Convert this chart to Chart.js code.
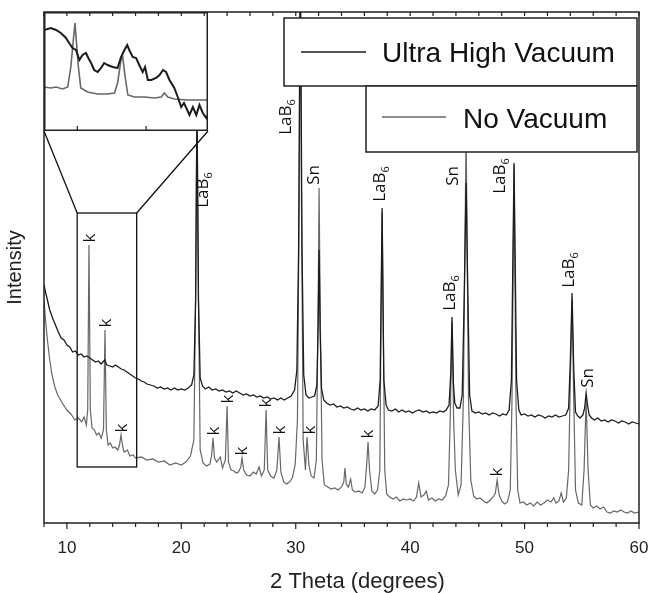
<!DOCTYPE html>
<html>
<head>
<meta charset="utf-8">
<script src="https://cdn.jsdelivr.net/npm/chart.js@4"></script>
<style>
  body { margin: 0; background: #fff; }
  #wrap { position: relative; width: 652px; height: 593px; }
  #mainChart { position: absolute; left: 0; top: 0; }
  #insetChart { position: absolute; left: 44px; top: 12px; }
</style>
</head>
<body>
<div id="wrap">
  <canvas id="mainChart" width="652" height="593"></canvas>
  <canvas id="insetChart" width="164" height="119"></canvas>
</div>
<script>
// XRD patterns: [2 theta, intensity (a.u.)]
const ultraHighVacuum = [
  [8.0,238],[8.15,230],[8.3,223],[8.5,213],[8.75,205],[9.0,198],[9.25,191],[9.5,185],[9.75,183],[10.0,178],
  [10.25,176],[10.5,171],[10.75,172],[11.0,168],[11.25,169],[11.5,166],[11.75,167],[12.0,165],[12.25,163],[12.5,161],
  [12.75,162],[13.0,159],[13.3,163],[13.5,158],[13.75,157],[14.0,156],[14.25,158],[14.5,156],[14.75,154],[15.0,153],
  [15.25,151],[15.5,149],[15.75,147],[16.0,145],[16.25,144],[16.5,142],[16.75,141],[17.0,139],[17.3,138],[17.6,137],
  [17.9,135],[18.2,136],[18.5,134],[18.8,135],[19.1,133],[19.4,135],[19.7,133],[20.0,134],[20.3,133],[20.6,135],
  [20.9,138],[21.1,148],[21.25,223],[21.37,423],[21.5,223],[21.65,145],[21.85,137],[22.1,134],[22.4,136],[22.7,133],
  [23.0,134],[23.3,132],[23.6,133],[23.9,131],[24.2,132],[24.5,130],[24.8,132],[25.1,130],[25.4,128],[25.7,129],
  [26.0,127],[26.3,128],[26.6,126],[26.9,127],[27.2,125],[27.5,126],[27.8,124],[28.1,125],[28.4,123],[28.7,125],
  [29.0,123],[29.3,125],[29.6,127],[29.9,133],[30.1,153],[30.25,273],[30.4,573],[30.55,273],[30.7,148],[30.9,128],
  [31.15,125],[31.4,126],[31.65,127],[31.85,138],[31.95,193],[32.04,273],[32.13,193],[32.25,135],[32.45,123],[32.7,120],
  [33.0,118],[33.3,119],[33.6,116],[33.9,117],[34.2,115],[34.5,116],[34.8,114],[35.1,113],[35.4,115],[35.7,113],
  [36.0,114],[36.3,112],[36.6,114],[36.9,113],[37.2,117],[37.38,143],[37.55,315],[37.7,143],[37.9,118],[38.1,113],
  [38.4,112],[38.7,114],[39.0,111],[39.3,113],[39.6,111],[39.9,112],[40.2,110],[40.5,112],[40.8,113],[41.1,111],
  [41.4,112],[41.7,110],[42.0,111],[42.3,110],[42.6,112],[42.9,111],[43.15,113],[43.4,118],[43.55,150],[43.66,206],
  [43.78,140],[43.9,120],[44.1,115],[44.35,115],[44.55,128],[44.72,223],[44.89,340],[45.05,223],[45.2,128],[45.4,112],
  [45.7,110],[46.0,111],[46.3,109],[46.6,110],[46.9,108],[47.2,110],[47.5,109],[47.8,107],[48.1,109],[48.4,108],
  [48.65,113],[48.85,143],[49.08,360],[49.3,143],[49.5,113],[49.7,108],[50.0,109],[50.3,107],[50.6,108],[50.9,106],
  [51.2,108],[51.5,107],[51.8,105],[52.1,107],[52.4,106],[52.7,108],[53.0,106],[53.3,107],[53.6,108],[53.85,115],
  [54.0,163],[54.15,230],[54.3,153],[54.45,111],[54.65,107],[54.85,105],[55.1,108],[55.25,115],[55.38,130],[55.5,118],
  [55.65,108],[55.85,105],[56.1,103],[56.4,105],[56.7,102],[57.0,103],[57.3,101],[57.6,103],[57.9,102],[58.2,100],
  [58.5,102],[58.8,101],[59.1,99],[59.4,101],[59.7,100],[60.0,99]
];

const noVacuum = [
  [8.0,223],[8.15,201],[8.3,183],[8.5,163],[8.7,148],[8.95,136],[9.2,128],[9.6,120],[10.0,113],[10.35,109],
  [10.7,103],[11.0,105],[11.3,101],[11.5,106],[11.7,98],[11.82,113],[11.93,278],[12.05,113],[12.2,95],[12.4,93],
  [12.6,88],[12.8,90],[13.0,85],[13.2,93],[13.33,193],[13.45,93],[13.6,78],[13.8,80],[14.0,75],[14.2,76],
  [14.45,73],[14.6,78],[14.73,88],[14.88,76],[15.0,71],[15.3,73],[15.5,67],[15.8,68],[16.0,65],[16.5,66],
  [17.0,63],[17.5,64],[18.0,61],[18.5,62],[19.0,58],[19.5,60],[20.0,58],[20.4,61],[20.8,67],[21.1,83],
  [21.25,223],[21.37,423],[21.5,223],[21.65,73],[21.9,60],[22.2,57],[22.5,59],[22.65,68],[22.77,85],[22.9,65],
  [23.1,61],[23.4,66],[23.6,55],[23.85,63],[24.0,117],[24.12,61],[24.35,53],[24.6,52],[24.8,50],[25.0,51],
  [25.2,56],[25.31,65],[25.45,53],[25.7,48],[26.0,47],[26.3,51],[26.55,49],[26.8,56],[27.0,47],[27.25,53],
  [27.41,113],[27.55,53],[27.8,47],[28.1,45],[28.35,53],[28.54,86],[28.7,51],[28.95,41],[29.2,39],[29.45,41],
  [29.7,45],[29.95,58],[30.15,103],[30.3,323],[30.4,573],[30.5,323],[30.65,83],[30.85,53],[30.99,86],[31.15,58],
  [31.35,47],[31.6,45],[31.8,63],[31.95,203],[32.04,335],[32.15,203],[32.3,63],[32.5,38],[32.8,36],[33.1,34],
  [33.4,35],[33.7,33],[34.0,36],[34.2,41],[34.3,55],[34.42,39],[34.6,36],[34.8,44],[34.95,33],[35.2,31],
  [35.5,32],[35.8,30],[36.05,36],[36.2,58],[36.32,81],[36.45,53],[36.65,32],[36.9,29],[37.15,33],[37.35,53],
  [37.45,193],[37.55,311],[37.65,193],[37.78,53],[37.95,29],[38.2,26],[38.5,24],[38.8,26],[39.1,22],[39.4,24],
  [39.7,23],[40.0,24],[40.3,22],[40.55,26],[40.75,40],[40.95,26],[41.2,28],[41.4,32],[41.6,23],[41.9,25],
  [42.2,22],[42.5,24],[42.8,23],[43.1,27],[43.35,38],[43.5,103],[43.66,201],[43.8,103],[43.95,53],[44.2,28],
  [44.45,38],[44.65,123],[44.89,393],[45.1,123],[45.3,43],[45.55,27],[45.8,24],[46.1,25],[46.4,22],[46.7,20],
  [47.0,23],[47.25,26],[47.45,30],[47.6,43],[47.78,28],[48.0,22],[48.25,19],[48.5,21],[48.75,33],[48.9,123],
  [49.08,358],[49.25,123],[49.4,33],[49.6,20],[49.9,21],[50.2,18],[50.5,20],[50.8,17],[51.1,21],[51.4,18],
  [51.7,20],[52.0,23],[52.3,21],[52.55,25],[52.75,20],[53.0,22],[53.2,30],[53.4,21],[53.65,25],[53.85,53],
  [54.0,143],[54.15,223],[54.3,123],[54.45,33],[54.7,20],[55.0,18],[55.2,53],[55.38,123],[55.55,53],[55.75,18],
  [56.0,15],[56.3,17],[56.6,14],[56.9,16],[57.2,11],[57.5,10],[57.8,12],[58.1,11],[58.4,13],[58.7,11],
  [59.0,10],[59.3,12],[59.6,10],[60.0,11]
];

// enlarged 11-16 degree window shown in the inset (own intensity scale)
const insetUltraHighVacuum = [
  [11.03,100],[11.23,102],[11.38,100],[11.52,97],[11.67,92],[11.76,87],[11.86,82],[11.96,80],[12.06,70],[12.15,75],
  [12.25,77],[12.32,72],[12.4,67],[12.49,60],[12.59,58],[12.69,62],[12.78,67],[12.88,65],[13.03,63],[13.17,62],
  [13.27,73],[13.37,80],[13.45,85],[13.51,80],[13.61,73],[13.71,72],[13.8,65],[13.9,58],[13.97,63],[14.05,50],
  [14.15,50],[14.29,52],[14.39,55],[14.49,60],[14.58,58],[14.68,50],[14.82,42],[14.92,33],[15.02,23],[15.1,27],
  [15.17,22],[15.26,15],[15.36,23],[15.46,15],[15.55,25],[15.65,17],[15.75,12],[15.8,15]
];
const insetNoVacuum = [
  [11.03,43],[11.23,42],[11.38,43],[11.57,41],[11.72,43],[11.81,63],[11.93,107],[12.03,63],[12.1,42],[12.3,38],
  [12.59,36],[12.88,36],[13.08,37],[13.17,47],[13.27,70],[13.32,73],[13.39,53],[13.47,35],[13.66,33],[13.95,33],
  [14.24,32],[14.44,33],[14.53,37],[14.63,33],[14.82,31],[15.21,30],[15.6,30],[15.8,30]
];

const xTickValues = [10, 20, 30, 40, 50, 60];
const insetTickValues = [12, 14];

// phase assignments: name, 2 theta, intensity level of the label centre
const peakNames = ['LaB6', 'LaB6', 'Sn', 'LaB6', 'LaB6', 'Sn', 'LaB6', 'LaB6', 'Sn',
  'k', 'k', 'k', 'k', 'k', 'k', 'k', 'k', 'k', 'k', 'k'];
const peakNameTheta = [21.99, 29.24, 31.51, 37.46, 43.58, 43.66, 47.95, 53.98, 55.47,
  11.93, 13.33, 14.73, 22.77, 24.0, 25.22, 27.32, 28.54, 31.16, 36.23, 47.51];
const peakNameLevel = [333, 406, 348, 339, 230, 347, 347, 253, 145,
  285, 200, 95, 92, 124, 72, 120, 93, 93, 89, 51];

// region of the main plot that the inset enlarges
const zoomBox = { from: 10.9, to: 16.1, low: 56, high: 310 };

const UHV_COLOR = '#1c1c1c';
const NOVAC_COLOR = '#676767';

const legendBoxes = [
  { x0: 284, y0: 18, x1: 637, y1: 86, lx0: 301, lx1: 366, ly: 52, tx: 382, ty: 62 },
  { x0: 366, y0: 86, x1: 637, y1: 152, lx0: 382, lx1: 446, ly: 117, tx: 463, ty: 128 }
];

function drawPeakName(ctx, text, cx, cy) {
  ctx.save();
  ctx.translate(cx, cy);
  ctx.rotate(-Math.PI / 2);
  ctx.fillStyle = '#111';
  ctx.textBaseline = 'alphabetic';
  ctx.textAlign = 'left';
  if (text.startsWith('LaB')) {
    ctx.font = '17px "Open Sans"';
    const w1 = ctx.measureText('LaB').width;
    ctx.font = '11px "Open Sans"';
    const w2 = ctx.measureText('6').width;
    const x0 = -(w1 + w2) / 2;
    ctx.font = '17px "Open Sans"';
    ctx.fillText('LaB', x0, 4);
    ctx.font = '11px "Open Sans"';
    ctx.fillText('6', x0 + w1, 8);
  } else {
    ctx.font = '17px "Open Sans"';
    ctx.textAlign = 'center';
    ctx.fillText(text, 0, 6);
  }
  ctx.restore();
}

const xrdDecor = {
  id: 'xrdDecor',
  afterDatasetsDraw(chart) {
    const { ctx, chartArea: a, scales: { x, y } } = chart;
    ctx.save();

    // zoom window + connectors to the inset
    ctx.strokeStyle = '#111';
    ctx.lineWidth = 1.3;
    const bx0 = x.getPixelForValue(zoomBox.from), bx1 = x.getPixelForValue(zoomBox.to);
    const by0 = y.getPixelForValue(zoomBox.high), by1 = y.getPixelForValue(zoomBox.low);
    ctx.strokeRect(bx0, by0, bx1 - bx0, by1 - by0);
    const inset = document.getElementById('insetChart');
    const iL = inset.offsetLeft, iR = iL + inset.width, iB = inset.offsetTop + inset.height;
    ctx.beginPath();
    ctx.moveTo(iL, iB); ctx.lineTo(bx0, by0);
    ctx.moveTo(iR, iB); ctx.lineTo(bx1, by0);
    ctx.stroke();

    // legend boxes
    legendBoxes.forEach((b, i) => {
      const ds = chart.data.datasets[i];
      ctx.fillStyle = '#fff';
      ctx.fillRect(b.x0, b.y0, b.x1 - b.x0, b.y1 - b.y0);
      ctx.strokeStyle = '#222';
      ctx.lineWidth = 1.5;
      ctx.strokeRect(b.x0, b.y0, b.x1 - b.x0, b.y1 - b.y0);
      ctx.strokeStyle = ds.borderColor;
      ctx.lineWidth = 1.4;
      ctx.beginPath();
      ctx.moveTo(b.lx0, b.ly); ctx.lineTo(b.lx1, b.ly);
      ctx.stroke();
      ctx.fillStyle = '#111';
      ctx.font = '28px "Liberation Sans"';
      ctx.textBaseline = 'alphabetic';
      ctx.textAlign = 'left';
      ctx.fillText(ds.label, b.tx, b.ty);
    });

    // frame and ticks
    ctx.strokeStyle = '#222';
    ctx.lineWidth = 1.5;
    ctx.strokeRect(a.left, a.top, a.right - a.left, a.bottom - a.top);
    ctx.lineWidth = 1.2;
    ctx.beginPath();
    for (let t = x.min; t <= x.max; t += 2) {
      const px = x.getPixelForValue(t);
      const len = t % 10 === 0 ? 6 : 4;
      ctx.moveTo(px, a.bottom); ctx.lineTo(px, a.bottom + len);
      ctx.moveTo(px, a.top); ctx.lineTo(px, a.top + 4);
    }
    ctx.stroke();

    // axis title
    ctx.fillStyle = '#222';
    ctx.font = '22px "Liberation Sans"';
    ctx.textAlign = 'center';
    ctx.textBaseline = 'middle';
    ctx.fillText('2 Theta (degrees)', (a.left + a.right) / 2 + 16, 582);

    // phase labels
    peakNames.forEach((name, i) => {
      drawPeakName(ctx, name, x.getPixelForValue(peakNameTheta[i]), y.getPixelForValue(peakNameLevel[i]));
    });
    ctx.restore();
  }
};

const mainChart = new Chart(document.getElementById('mainChart'), {
  type: 'line',
  data: {
    datasets: [
      {
        label: 'Ultra High Vacuum',
        data: ultraHighVacuum.map(p => ({ x: p[0], y: p[1] })),
        borderColor: UHV_COLOR,
        borderWidth: 1.3,
        pointRadius: 0,
        tension: 0
      },
      {
        label: 'No Vacuum',
        data: noVacuum.map(p => ({ x: p[0], y: p[1] })),
        borderColor: NOVAC_COLOR,
        borderWidth: 1.2,
        pointRadius: 0,
        tension: 0
      }
    ]
  },
  options: {
    responsive: false,
    animation: false,
    devicePixelRatio: 1,
    layout: { padding: { top: 12, right: 13, left: 0, bottom: 0 } },
    plugins: { legend: { display: false }, tooltip: { enabled: false } },
    scales: {
      x: {
        type: 'linear',
        min: 8,
        max: 60,
        grid: { display: false, drawTicks: false },
        border: { display: false },
        afterBuildTicks: s => { s.ticks = xTickValues.map(v => ({ value: v })); },
        afterFit: s => { s.height = 70; s.paddingLeft = 0; s.paddingRight = 0; },
        ticks: { padding: 15, maxRotation: 0, color: '#222', font: { family: 'Liberation Sans', size: 17 } }
      },
      y: {
        min: 0,
        max: 511,
        grid: { display: false, drawTicks: false },
        border: { display: false },
        ticks: { display: false },
        afterFit: s => { s.width = 44; s.paddingTop = 0; s.paddingBottom = 0; },
        title: {
          display: true,
          text: 'Intensity',
          color: '#222',
          font: { family: 'Liberation Sans', size: 20 },
          padding: { top: 3, bottom: 0 }
        }
      }
    }
  },
  plugins: [xrdDecor]
});

const insetDecor = {
  id: 'insetDecor',
  beforeDraw(chart) {
    const { ctx } = chart;
    ctx.save();
    ctx.fillStyle = '#fff';
    ctx.fillRect(0, 0, chart.width, chart.height);
    ctx.restore();
  },
  afterDraw(chart) {
    const { ctx, scales: { x } } = chart;
    const w = chart.width, h = chart.height;
    ctx.save();
    ctx.strokeStyle = '#222';
    ctx.lineWidth = 1.5;
    ctx.strokeRect(0.75, 0.75, w - 1.5, h - 1.5);
    ctx.lineWidth = 1.2;
    ctx.beginPath();
    insetTickValues.forEach(t => {
      const px = x.getPixelForValue(t);
      ctx.moveTo(px, h); ctx.lineTo(px, h - 5);
    });
    // top ticks continue the main axis
    const mx = mainChart.scales.x;
    const off = chart.canvas.offsetLeft;
    for (let t = mx.min; t <= mx.max; t += 2) {
      const px = mx.getPixelForValue(t) - off;
      if (px > 1 && px < w - 1) { ctx.moveTo(px, 0); ctx.lineTo(px, 4); }
    }
    ctx.stroke();
    ctx.restore();
  }
};

const insetChart = new Chart(document.getElementById('insetChart'), {
  type: 'line',
  data: {
    datasets: [
      {
        label: 'Ultra High Vacuum',
        data: insetUltraHighVacuum.map(p => ({ x: p[0], y: p[1] })),
        borderColor: UHV_COLOR,
        borderWidth: 2,
        pointRadius: 0,
        tension: 0
      },
      {
        label: 'No Vacuum',
        data: insetNoVacuum.map(p => ({ x: p[0], y: p[1] })),
        borderColor: NOVAC_COLOR,
        borderWidth: 1.6,
        pointRadius: 0,
        tension: 0
      }
    ]
  },
  options: {
    responsive: false,
    animation: false,
    devicePixelRatio: 1,
    layout: { padding: 0 },
    plugins: { legend: { display: false }, tooltip: { enabled: false } },
    scales: {
      x: { type: 'linear', display: false, min: 11.03, max: 15.8 },
      y: { display: false, min: -1, max: 118 }
    }
  },
  plugins: [insetDecor]
});
</script>
</body>
</html>
